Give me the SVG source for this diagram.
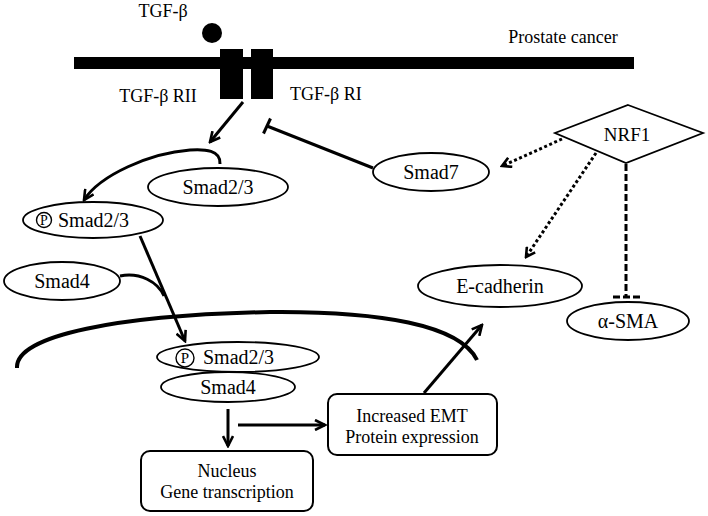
<svg xmlns="http://www.w3.org/2000/svg" width="708" height="516" viewBox="0 0 708 516" font-family="'Liberation Serif', 'Times New Roman', serif">
<style>
text{font-family:'Liberation Serif','DejaVu Serif',serif;fill:#000}
.lbl{font-size:18px}
.nd{font-size:20px;text-anchor:middle}
.bx{font-size:18px;text-anchor:middle}
.el{fill:#fff;stroke:#000;stroke-width:1.8}
.box{fill:#fff;stroke:#000;stroke-width:2}
.ln{fill:none;stroke:#000;stroke-width:3}
.dot{fill:none;stroke:#000;stroke-width:3;stroke-dasharray:3 2.5}
.dash{fill:none;stroke:#000;stroke-width:3;stroke-dasharray:7 3}
</style>
<defs>
<marker id="arr" viewBox="0 0 13 12" refX="11" refY="6" markerWidth="13" markerHeight="12" orient="auto" markerUnits="userSpaceOnUse">
<path d="M1,1 L11,6 L1,11" fill="none" stroke="#000" stroke-width="2.6"/>
</marker>
<marker id="arrs" viewBox="0 0 12 12" refX="10" refY="6" markerWidth="12" markerHeight="12" orient="auto" markerUnits="userSpaceOnUse">
<path d="M1,1 L10,6 L1,11" fill="none" stroke="#000" stroke-width="2.6"/>
</marker>
</defs>

<g id="membrane">
<rect x="74" y="57" width="560" height="12" fill="#000"/>
<rect x="220" y="49" width="23" height="50" fill="#000"/>
<rect x="251" y="49" width="22" height="50" fill="#000"/>
<circle cx="212" cy="33" r="10" fill="#000"/>
<text class="lbl" x="163" y="17" text-anchor="middle" font-family="Liberation Serif">TGF-β</text>
<text class="lbl" x="158" y="102" text-anchor="middle" font-family="Liberation Serif">TGF-β RII</text>
<text class="lbl" x="290" y="100" font-family="Liberation Serif">TGF-β RI</text>
<text class="lbl" x="563" y="43" text-anchor="middle" font-family="Liberation Serif">Prostate cancer</text>
</g>

<g id="connectors">
<line class="ln" x1="243" y1="102" x2="210" y2="142" marker-end="url(#arr)"/>
<line class="ln" x1="373" y1="168" x2="267" y2="126"/>
<line class="ln" x1="270.5" y1="118.5" x2="263.5" y2="133.5"/>
<path class="ln" d="M220,164 C221,150 205,149 190,150 C150,153 100,175 84,200" marker-end="url(#arr)"/>
<line class="ln" x1="140" y1="236" x2="185" y2="341" marker-end="url(#arr)"/>
<path class="ln" d="M120,276 C140,272 158,282 164,296"/>
<path fill="none" stroke="#000" stroke-width="4" d="M17,368 C15,335 120,315 270,312 C380,311 460,325 477,360"/>
<line class="ln" x1="228" y1="409" x2="228" y2="446" marker-end="url(#arr)"/>
<line class="ln" x1="238" y1="425" x2="325" y2="425" marker-end="url(#arr)"/>
<line class="ln" x1="424" y1="393" x2="482" y2="325" marker-end="url(#arr)"/>
<line class="dot" x1="562" y1="139" x2="502" y2="166" marker-end="url(#arrs)"/>
<line class="dot" x1="596" y1="153" x2="526" y2="257" marker-end="url(#arrs)"/>
<line class="dash" x1="626" y1="164" x2="626" y2="297"/>
<line class="dash" x1="613" y1="297" x2="640" y2="297" stroke-dasharray="8 3"/>
</g>

<g id="nrf1">
<polygon points="628,105 703,133 626,163 555,133" fill="#fff" stroke="#000" stroke-width="1.8"/>
<text class="nd" x="627" y="141" font-family="Liberation Serif" style="font-size:19px">NRF1</text>
</g>

<g id="smad23">
<ellipse class="el" cx="218" cy="187" rx="70" ry="19"/>
<text class="nd" x="218" y="194" font-family="Liberation Serif">Smad2/3</text>
</g>

<g id="smad7">
<ellipse class="el" cx="431" cy="172" rx="58" ry="19"/>
<text class="nd" x="431" y="179" font-family="Liberation Serif">Smad7</text>
</g>

<g id="psmad23">
<ellipse class="el" cx="93" cy="220" rx="70" ry="18"/>
<circle cx="44" cy="220" r="7.5" fill="none" stroke="#000" stroke-width="1.4"/>
<text x="44" y="225" text-anchor="middle" font-family="Liberation Serif" style="font-size:14px">P</text>
<text x="58" y="227" font-family="Liberation Serif" style="font-size:20px">Smad2/3</text>
</g>

<g id="smad4">
<ellipse class="el" cx="62" cy="281" rx="58" ry="19"/>
<text class="nd" x="62" y="288" font-family="Liberation Serif">Smad4</text>
</g>

<g id="ecadherin">
<ellipse class="el" cx="500" cy="286" rx="82" ry="21"/>
<text class="nd" x="500" y="293" font-family="Liberation Serif">E-cadherin</text>
</g>

<g id="asma">
<ellipse class="el" cx="628" cy="321" rx="61" ry="19"/>
<text class="nd" x="628" y="328" font-family="Liberation Serif">α-SMA</text>
</g>

<g id="nuclear-smad4">
<ellipse class="el" cx="228" cy="387" rx="67" ry="15"/>
<text class="nd" x="228" y="394" font-family="Liberation Serif">Smad4</text>
</g>

<g id="nuclear-psmad23">
<ellipse cx="238" cy="357" rx="81" ry="15" fill="none" stroke="#000" stroke-width="1.8"/>
<circle cx="185" cy="358" r="9" fill="none" stroke="#000" stroke-width="1.4"/>
<text x="185" y="363" text-anchor="middle" font-family="Liberation Serif" style="font-size:15px">P</text>
<text x="203" y="364" font-family="Liberation Serif" style="font-size:20px">Smad2/3</text>
</g>

<g id="nucleus">
<rect class="box" x="141" y="451" width="172" height="60" rx="9"/>
<text class="bx" x="227" y="477" font-family="Liberation Serif">Nucleus</text>
<text class="bx" x="227" y="498" font-family="Liberation Serif">Gene transcription</text>
</g>

<g id="emt">
<rect class="box" x="328" y="394" width="169" height="61" rx="9"/>
<text class="bx" x="412" y="422" font-family="Liberation Serif">Increased EMT</text>
<text class="bx" x="412" y="443" font-family="Liberation Serif">Protein expression</text>
</g>
</svg>
